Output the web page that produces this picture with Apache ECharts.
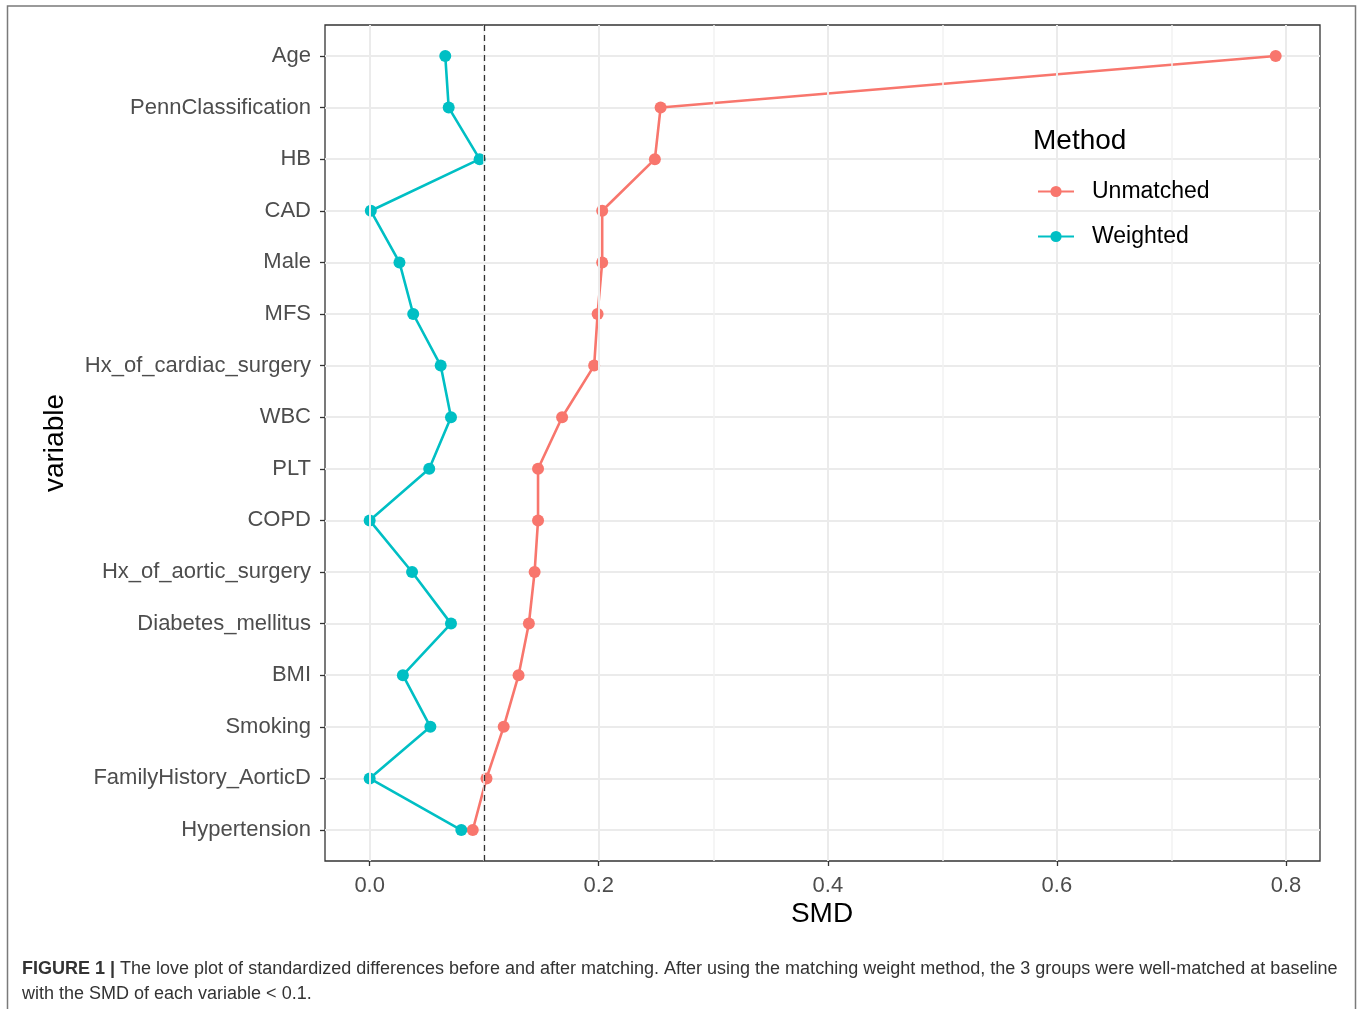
<!DOCTYPE html>
<html>
<head>
<meta charset="utf-8">
<script src="https://cdn.jsdelivr.net/npm/echarts@6/dist/echarts.min.js"></script>
<style>
  html, body { margin: 0; padding: 0; background: #fff; }
  #chart { width: 1360px; height: 1009px; }
</style>
</head>
<body>
<div id="chart"></div>
<script>
const categories = ['Age', 'PennClassification', 'HB', 'CAD', 'Male', 'MFS', 'Hx_of_cardiac_surgery', 'WBC', 'PLT', 'COPD', 'Hx_of_aortic_surgery', 'Diabetes_mellitus', 'BMI', 'Smoking', 'FamilyHistory_AorticD', 'Hypertension'];
const unmatched = [0.791, 0.254, 0.249, 0.203, 0.203, 0.199, 0.196, 0.168, 0.147, 0.147, 0.144, 0.139, 0.130, 0.117, 0.102, 0.090];
const weighted = [0.066, 0.069, 0.096, 0.001, 0.026, 0.038, 0.062, 0.071, 0.052, 0.000, 0.037, 0.071, 0.029, 0.053, 0.000, 0.080];
const xMajorTicks = [0, 0.2, 0.4, 0.6, 0.8];
const xMinorTicks = [0.1, 0.3, 0.5, 0.7];
const xTickLabels = ['0.0', '0.2', '0.4', '0.6', '0.8'];
const threshold = 0.1;
const seriesNames = ['Unmatched', 'Weighted'];
const seriesColors = ['#F8766D', '#00BFC4'];

const yIdx = categories.map((c, i) => i);
const toPts = arr => arr.map((v, i) => [v, i]);
const FONT = 'Liberation Sans, Arial, sans-serif';

const chart = echarts.init(document.getElementById('chart'), null, { renderer: 'canvas' });

const gridLines = [];
xMajorTicks.forEach(v => gridLines.push({ xAxis: v, lineStyle: { color: '#EBEBEB', width: 2, type: 'solid' } }));
xMinorTicks.forEach(v => gridLines.push({ xAxis: v, lineStyle: { color: '#F2F2F2', width: 1.5, type: 'solid' } }));

const option = {
  animation: false,
  backgroundColor: '#fff',
  textStyle: { fontFamily: FONT },
  grid: {
    left: 325, top: 25, width: 995, height: 836,
    show: true, borderColor: '#333333', borderWidth: 1.3, backgroundColor: 'transparent',
    containLabel: false
  },
  xAxis: {
    type: 'value', min: -0.039, max: 0.8297,
    axisLine: { show: false, onZero: false },
    axisTick: { show: true, customValues: xMajorTicks, length: 5, lineStyle: { color: '#333', width: 1.3 } },
    axisLabel: {
      customValues: xMajorTicks, margin: 14, fontSize: 22, color: '#4D4D4D',
      formatter: v => xTickLabels[xMajorTicks.indexOf(Math.round(v * 10) / 10)] ?? ''
    },
    splitLine: { show: false }
  },
  yAxis: {
    type: 'value', inverse: true, min: -0.6, max: 15.6,
    axisLine: { show: false, onZero: false },
    axisTick: { show: true, customValues: yIdx, length: 5, lineStyle: { color: '#333', width: 1.3 } },
    axisLabel: {
      customValues: yIdx, margin: 14, fontSize: 22, color: '#4D4D4D',
      formatter: v => categories[Math.round(v)] ?? ''
    },
    splitLine: { show: true, lineStyle: { color: '#EBEBEB', width: 2 } }
  },
  legend: {
    orient: 'vertical', left: 1037, top: 180, padding: 0, z: 50,
    itemWidth: 36, itemHeight: 14, itemGap: 22,
    textStyle: { fontSize: 23, color: '#000', padding: [0, 0, 0, 13] },
    data: seriesNames
  },
  graphic: [
    { type: 'rect', shape: { x: 7.5, y: 6, width: 1348, height: 1100 }, style: { fill: 'none', stroke: '#7a7a7a', lineWidth: 1.5 }, silent: true, z: -10 },
    { type: 'text', left: 1033, top: 127, z: 100, style: { text: 'Method', fontSize: 28, fill: '#000', fontFamily: FONT } },
    { type: 'text', x: 822, y: 914, z: 100, style: { text: 'SMD', fontSize: 28, fill: '#000', align: 'center', verticalAlign: 'middle', fontFamily: FONT } },
    { type: 'text', x: 55, y: 443, z: 100, rotation: Math.PI / 2, style: { text: 'variable', fontSize: 28, fill: '#000', align: 'center', verticalAlign: 'middle', fontFamily: FONT } },
    { type: 'text', left: 22, top: 957, z: 100, style: {
        text: '{b|FIGURE 1 |} The love plot of standardized differences before and after matching. After using the matching weight method, the 3 groups were well-matched at baseline\nwith the SMD of each variable < 0.1.',
        fontSize: 18, fill: '#333', lineHeight: 25, fontFamily: FONT,
        rich: { b: { fontWeight: 'bold', fontSize: 18, fill: '#333', fontFamily: FONT } }
      } }
  ],
  series: [
    {
      type: 'line', name: '_grid', data: [], z: 1, silent: true,
      markLine: {
        silent: true, symbol: 'none', label: { show: false }, animation: false,
        data: gridLines.concat([{ xAxis: threshold, lineStyle: { color: '#333', width: 1.3, type: [6, 4] } }])
      }
    },
    {
      type: 'line', name: seriesNames[0], data: toPts(unmatched), z: 3,
      color: seriesColors[0], symbol: 'circle', symbolSize: 12, showSymbol: true,
      lineStyle: { width: 2.6, color: seriesColors[0] }, itemStyle: { color: seriesColors[0] }
    },
    {
      type: 'line', name: seriesNames[1], data: toPts(weighted), z: 3,
      color: seriesColors[1], symbol: 'circle', symbolSize: 12, showSymbol: true,
      lineStyle: { width: 2.6, color: seriesColors[1] }, itemStyle: { color: seriesColors[1] }
    }
  ]
};
chart.setOption(option);
</script>
</body>
</html>
